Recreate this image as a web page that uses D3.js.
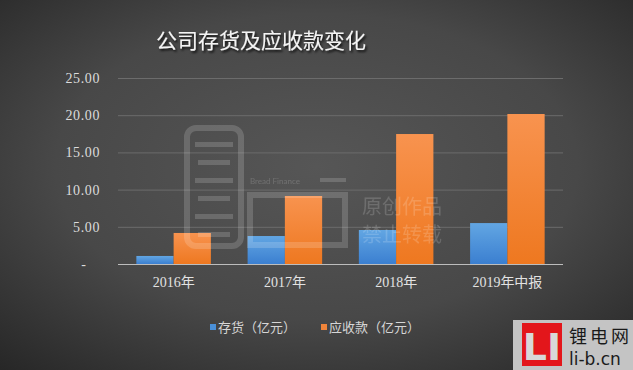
<!DOCTYPE html>
<html>
<head>
<meta charset="utf-8">
<script src="https://cdn.jsdelivr.net/npm/d3@7"></script>
<style>
  html, body { margin: 0; padding: 0; background: #3a3a3a; }
  svg { display: block; }
</style>
</head>
<body>
<svg id="chart" width="633" height="370"></svg>
<script>
// data
var categories = ['2016年', '2017年', '2018年', '2019年中报'];
var seriesNames = ['存货（亿元）', '应收款（亿元）'];
var inventory = [1.08, 3.76, 4.57, 5.5];
var receivables = [4.17, 9.14, 17.47, 20.16];
var yTicks = [0, 5, 10, 15, 20, 25];

var svg = d3.select('#chart'),
  width = +svg.attr('width'),
  height = +svg.attr('height');

var defs = svg.append('defs');

// background: dark radial gradient
var bg = defs.append('radialGradient')
  .attr('id', 'bg')
  .attr('cx', '50%').attr('cy', '45%').attr('r', '75%');
bg.append('stop').attr('offset', '0%').attr('stop-color', '#565656');
bg.append('stop').attr('offset', '55%').attr('stop-color', '#484848');
bg.append('stop').attr('offset', '100%').attr('stop-color', '#262626');

var barGrad = [
  ['blueGrad', '#62a6e3', '#3b7fd0'],
  ['orangeGrad', '#f8934f', '#ee7820']
];
barGrad.forEach(function(g) {
  var lg = defs.append('linearGradient')
    .attr('id', g[0])
    .attr('x1', 0).attr('y1', 0).attr('x2', 0).attr('y2', 1);
  lg.append('stop').attr('offset', '0%').attr('stop-color', g[1]);
  lg.append('stop').attr('offset', '100%').attr('stop-color', g[2]);
});
var colors = ['url(#blueGrad)', 'url(#orangeGrad)'];
var swatch = ['#4a90d9', '#f0843a'];

var shadow = defs.append('filter').attr('id', 'shadow')
  .attr('x', '-10%').attr('y', '-30%').attr('width', '120%').attr('height', '160%');
shadow.append('feDropShadow')
  .attr('dx', 1.5).attr('dy', 2).attr('stdDeviation', 1.2)
  .attr('flood-color', '#000').attr('flood-opacity', 0.8);

svg.append('rect')
  .attr('width', width).attr('height', height)
  .attr('fill', 'url(#bg)');

// Title
svg.append('text')
  .attr('x', 261).attr('y', 48)
  .attr('text-anchor', 'middle')
  .style('font-family', '"Noto Sans CJK SC", sans-serif')
  .style('font-size', '21px')
  .attr('fill', '#f4f4f4')
  .attr('filter', 'url(#shadow)')
  .text('公司存货及应收款变化');

// scales
var x0 = d3.scaleBand()
  .domain(categories)
  .range([118, 563])
  .paddingInner(0.33)
  .paddingOuter(0.165);

var x1 = d3.scaleBand()
  .domain([0, 1])
  .range([0, x0.bandwidth()]);

var y = d3.scaleLinear()
  .domain([0, 25])
  .range([264, 78]);

// gridlines
svg.append('g')
  .selectAll('line')
  .data(yTicks.slice(1))
  .enter()
  .append('line')
  .attr('x1', 118).attr('x2', 563)
  .attr('y1', function(d) { return y(d) + 0.5; })
  .attr('y2', function(d) { return y(d) + 0.5; })
  .attr('stroke', '#6c6c6c')
  .attr('stroke-width', 1);

// bars
var series = [inventory, receivables];
var groups = svg.append('g')
  .selectAll('g')
  .data(categories)
  .enter()
  .append('g')
  .attr('transform', function(d) { return 'translate(' + x0(d) + ',0)'; });

groups.selectAll('rect')
  .data(function(d, i) {
    return series.map(function(s, k) { return { k: k, v: s[i] }; });
  })
  .enter()
  .append('rect')
  .attr('x', function(d) { return x1(d.k); })
  .attr('width', x1.bandwidth())
  .attr('y', function(d) { return y(d.v); })
  .attr('height', function(d) { return y(0) - y(d.v); })
  .attr('fill', function(d) { return colors[d.k]; });

// watermark (faint, drawn over the bars)
var wm = svg.append('g').attr('opacity', 0.16);
wm.append('rect')
  .attr('x', 187).attr('y', 128).attr('width', 54).attr('height', 118)
  .attr('rx', 9)
  .attr('fill', 'none').attr('stroke', '#fff').attr('stroke-width', 6);
[142, 160, 178, 196, 214, 232].forEach(function(yy, i) {
  wm.append('rect')
    .attr('x', i % 2 ? 198 : 195).attr('y', yy)
    .attr('width', i % 2 ? 32 : 38).attr('height', 5)
    .attr('fill', '#fff');
});
wm.append('rect')
  .attr('x', 250).attr('y', 195).attr('width', 95).attr('height', 50)
  .attr('fill', 'none').attr('stroke', '#fff').attr('stroke-width', 6);
wm.append('text')
  .attr('x', 250).attr('y', 184)
  .style('font-family', 'Lato, sans-serif').style('font-size', '8px')
  .attr('fill', '#fff')
  .text('Bread Finance');
wm.append('rect')
  .attr('x', 320).attr('y', 178).attr('width', 26).attr('height', 4)
  .attr('fill', '#fff');
wm.append('text')
  .attr('x', 362).attr('y', 214)
  .style('font-family', '"Noto Sans CJK SC", sans-serif').style('font-size', '20px')
  .attr('fill', '#fff')
  .text('原创作品');
wm.append('text')
  .attr('x', 362).attr('y', 242)
  .style('font-family', '"Noto Sans CJK SC", sans-serif').style('font-size', '20px')
  .attr('fill', '#fff')
  .text('禁止转载');

// x axis line
svg.append('line')
  .attr('x1', 118).attr('x2', 563)
  .attr('y1', y(0) + 0.5).attr('y2', y(0) + 0.5)
  .attr('stroke', '#bdbdbd').attr('stroke-width', 1);

// y tick labels
var fmt = d3.format('.2f');
svg.append('g')
  .selectAll('text')
  .data(yTicks)
  .enter()
  .append('text')
  .attr('x', function(d) { return d === 0 ? 84 : 100; })
  .attr('y', function(d) { return y(d) + 5; })
  .attr('text-anchor', function(d) { return d === 0 ? 'middle' : 'end'; })
  .style('font-family', '"Liberation Serif", "DejaVu Serif", serif')
  .style('font-size', '14px')
  .style('letter-spacing', '0.6px')
  .attr('fill', '#dcdcdc')
  .text(function(d) { return d === 0 ? '-' : fmt(d); });

// category labels
svg.append('g')
  .selectAll('text')
  .data(categories)
  .enter()
  .append('text')
  .attr('x', function(d) { return x0(d) + x0.bandwidth() / 2; })
  .attr('y', 287)
  .attr('text-anchor', 'middle')
  .style('font-family', '"Liberation Serif", "Noto Sans CJK SC", serif')
  .style('font-size', '14px')
  .attr('fill', '#e2e2e2')
  .text(function(d) { return d; });

// legend
var legendX = [210, 321];
var legend = svg.append('g')
  .selectAll('g')
  .data(seriesNames)
  .enter()
  .append('g')
  .attr('transform', function(d, i) { return 'translate(' + legendX[i] + ',328)'; });

legend.append('rect')
  .attr('x', 0).attr('y', -4)
  .attr('width', 6).attr('height', 6)
  .attr('fill', function(d, i) { return swatch[i]; });

legend.append('text')
  .attr('x', 8).attr('y', 4)
  .style('font-family', '"Noto Sans CJK SC", sans-serif')
  .style('font-size', '13px')
  .attr('fill', '#d6d6d6')
  .text(function(d) { return d; });

// corner logo
var logo = svg.append('g');
logo.append('rect')
  .attr('x', 513).attr('y', 320).attr('width', 120).attr('height', 50)
  .attr('fill', '#c4c4c4');
logo.append('rect')
  .attr('x', 522).attr('y', 323).attr('width', 40).attr('height', 43)
  .attr('fill', '#e3161b');
logo.append('text')
  .attr('x', 542).attr('y', 360)
  .attr('text-anchor', 'middle')
  .style('font-family', '"DejaVu Sans", sans-serif')
  .style('font-size', '38px').style('font-weight', 'bold')
  .attr('fill', '#d8d8d8')
  .text('LI');
logo.append('text')
  .attr('x', 569).attr('y', 343)
  .style('font-family', '"Noto Sans CJK SC", sans-serif')
  .style('font-size', '18px').style('letter-spacing', '3px')
  .attr('fill', '#1a1a1a')
  .text('锂电网');
logo.append('text')
  .attr('x', 569).attr('y', 365)
  .style('font-family', '"DejaVu Sans", sans-serif')
  .style('font-size', '17px')
  .attr('fill', '#1a1a1a')
  .text('li-b.cn');
</script>
</body>
</html>
